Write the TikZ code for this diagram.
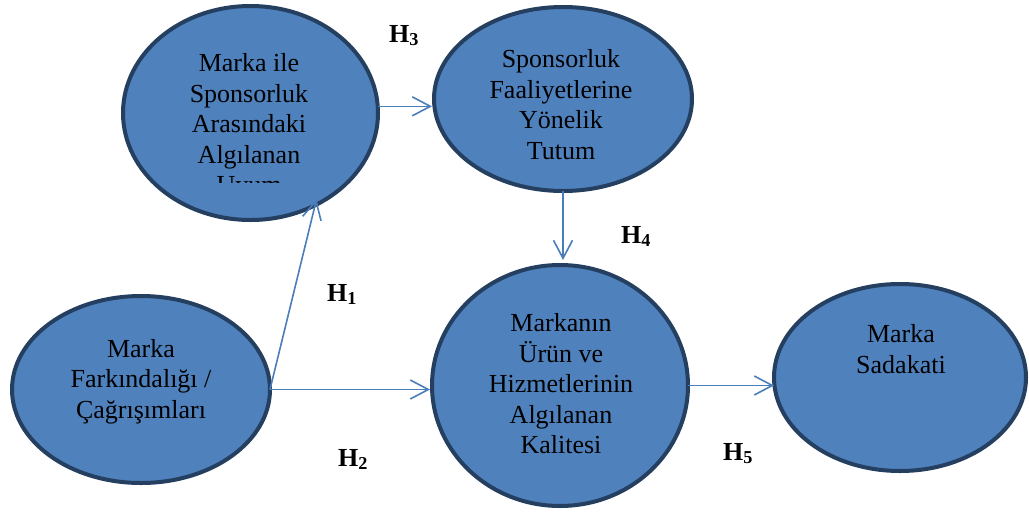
\documentclass[tikz,border=0pt]{standalone}
\usepackage{fontspec}
\setmainfont{Liberation Serif}
\usetikzlibrary{arrows.meta,shapes.geometric}
\definecolor{fillblue}{HTML}{4F81BD}
\definecolor{edgeblue}{HTML}{243F60}
\definecolor{arrowblue}{HTML}{4A7EBB}
\begin{document}
\begin{tikzpicture}[x=1pt,y=-1pt,
  oval/.style={ellipse, draw=edgeblue, fill=fillblue, line width=4pt, inner sep=0pt, outer sep=0pt},
  otext/.style={align=center, font=\fontsize{26}{30.5}\selectfont, inner sep=0pt, text=black},
  hlab/.style={font=\fontsize{26}{30}\selectfont\bfseries, inner sep=0pt, anchor=base west, text=black},
  link/.style={draw=arrowblue, line width=1.6pt, -{Straight Barb[length=18pt,width=19pt]}}
]
\useasboundingbox (0,0) rectangle (1029,512);

% ellipses
\node[oval, minimum width=255pt, minimum height=214pt] (e1) at (250.5,113) {};
\node[oval, minimum width=258pt, minimum height=184pt] (e2) at (563,99) {};
\node[oval, minimum width=258pt, minimum height=187pt] (e3) at (141,389.5) {};
\node[oval, minimum width=256pt, minimum height=241pt] (e4) at (560,385.5) {};
\node[oval, minimum width=252pt, minimum height=187pt] (e5) at (900,377.5) {};

% texts
\begin{scope}
  \clip (125,0) rectangle (375,182.5);
  \node[otext] (t1) at (249,126.4) {\strut Marka ile\\Sponsorluk\\Arasındaki\\Algılanan\\Uyum\strut};
\end{scope}
\node[otext] (t2) at (561,107.4) {\strut Sponsorluk\\Faaliyetlerine\\Yönelik\\Tutum\strut};
\node[otext] (t3) at (141,381.4) {\strut Marka\\Farkındalığı /\\Çağrışımları\strut};
\node[otext] (t4) at (561,386.4) {\strut Markanın\\Ürün ve\\Hizmetlerinin\\Algılanan\\Kalitesi\strut};
\node[otext] (t5) at (901,351.9) {\strut Marka\\Sadakati\strut};

% connectors
\draw[link, shorten >=2pt] (e1.3) -- (e1.3 -| e2.west);
\draw[link, shorten >=5pt] (e2.south) -- (e2.south |- e4.north);
\draw[link, shorten >=-6pt] (e3.east) -- (e1.-55);
\draw[link, shorten >=2pt] (e3.east) -- (e3.east -| e4.west);
\draw[link] (e4.east) -- (e4.east -| e5.west);

% labels
\node[hlab] (h3) at (389,42) {H\textsubscript{3}};
\node[hlab] (h4) at (621,243) {H\textsubscript{4}};
\node[hlab] (h1) at (327,301) {H\textsubscript{1}};
\node[hlab] (h2) at (338,466) {H\textsubscript{2}};
\node[hlab] (h5) at (723,460) {H\textsubscript{5}};
\end{tikzpicture}
\end{document}
